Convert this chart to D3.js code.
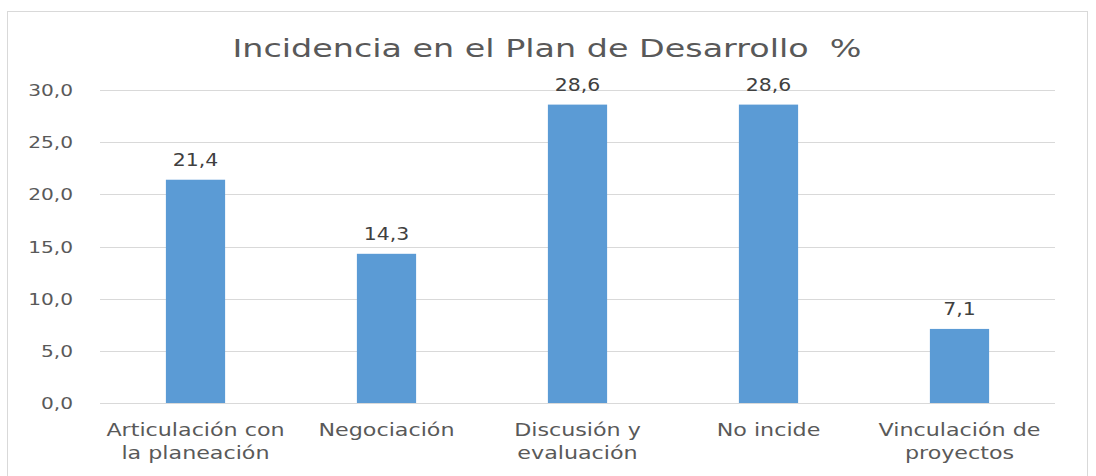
<!DOCTYPE html>
<html><head><meta charset="utf-8">
<script src="https://cdn.jsdelivr.net/npm/d3@7"></script>
<style>body{margin:0;background:#fff;} text{font-family:"DejaVu Sans",sans-serif;white-space:pre;}</style>
</head><body>
<svg id="c" width="1096" height="476"></svg>
<script>
const categories = [["Articulación con","la planeación"],["Negociación"],["Discusión y","evaluación"],["No incide"],["Vinculación de","proyectos"]];
const values = [21.4, 14.3, 28.6, 28.6, 7.1];
const yTicks = [0,5,10,15,20,25,30];
const title = "Incidencia en el Plan de Desarrollo  %";

const svg = d3.select("#c");
function stretch(sel, k){
  sel.each(function(){ const w=this.getComputedTextLength(); d3.select(this).attr("textLength",w*k).attr("lengthAdjust","spacingAndGlyphs"); });
}
svg.append("rect").attr("x",7.5).attr("y",11.5).attr("width",1080).attr("height",480).attr("fill","#fff").attr("stroke","#d9d9d9");
const m = {l:100, r:1055, t:90, b:403};
const x = d3.scaleBand().domain(d3.range(values.length)).range([m.l,m.r]).paddingInner(0.69).paddingOuter(0.345);
const y = d3.scaleLinear().domain([0,30]).range([m.b,m.t]);
const fmt = v => d3.format(".1f")(v).replace(".",",");

svg.append("g").selectAll("line").data(yTicks).join("line")
  .attr("x1",m.l).attr("x2",m.r).attr("y1",d=>Math.round(y(d))+0.5).attr("y2",d=>Math.round(y(d))+0.5)
  .attr("stroke","#d9d9d9").attr("stroke-width",1);
const tl = svg.append("g").selectAll("text").data(yTicks).join("text")
  .attr("x",73).attr("y",d=>y(d)+6).attr("text-anchor","end")
  .attr("font-size",16.5).attr("fill","#595959").text(fmt);
stretch(tl,1.22);

svg.append("g").selectAll("rect").data(values).join("rect")
  .attr("x",(d,i)=>x(i)).attr("width",x.bandwidth()).attr("y",d=>y(d)).attr("height",d=>y(0)-y(d)).attr("fill","#5b9bd5");
const dl = svg.append("g").selectAll("text").data(values).join("text")
  .attr("x",(d,i)=>x(i)+x.bandwidth()/2).attr("y",d=>y(d)-14).attr("text-anchor","middle")
  .attr("font-size",17).attr("fill","#404040").text(fmt);
stretch(dl,1.2);

const lines = [];
categories.forEach((c,i)=>c.forEach((s,k)=>lines.push({i,k,s})));
const cl = svg.append("g").selectAll("text").data(lines).join("text")
  .attr("x",d=>x(d.i)+x.bandwidth()/2).attr("y",d=>436+d.k*22.5).attr("text-anchor","middle")
  .attr("font-size",18.5).attr("fill","#595959").text(d=>d.s);
stretch(cl,1.2);

const tt = svg.append("text").attr("x",547).attr("y",57).attr("text-anchor","middle").attr("font-size",25).attr("fill","#595959").text(title);
stretch(tt,1.0);
const tw = tt.node().getComputedTextLength();
tt.attr("textLength",629).attr("lengthAdjust","spacingAndGlyphs");
</script>
</body></html>
